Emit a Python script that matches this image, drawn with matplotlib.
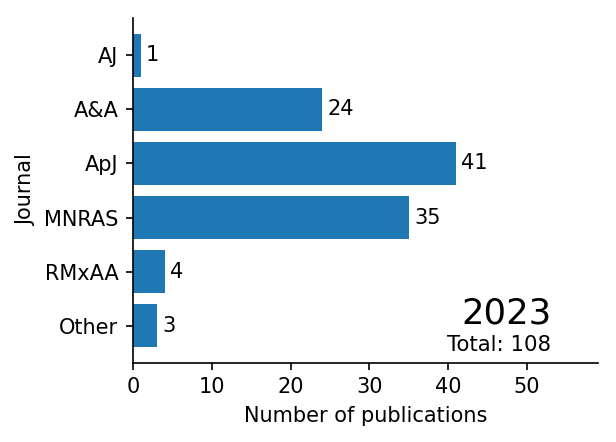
import numpy as np
import matplotlib.pyplot as plt

journals = ['AJ', 'A&A', 'ApJ', 'MNRAS', 'RMxAA', 'Other']
counts = [1, 24, 41, 35, 4, 3]
year = '2023'

fig = plt.figure(figsize=(616 / 150, 442 / 150), dpi=150)
ax = fig.add_axes([0.216, 0.179, 0.755, 0.780])

bars = ax.barh(journals, counts, color='#1f77b4', height=0.8)
ax.invert_yaxis()
ax.bar_label(bars, padding=2.5)

ax.set_xlim(0, max(counts) * 1.44)
ax.set_xlabel('Number of publications')
ax.set_ylabel('Journal')
ax.spines['top'].set_visible(False)
ax.spines['right'].set_visible(False)

ax.text(0.899, 0.093, year, transform=ax.transAxes, ha='right', va='bottom', fontsize=17)
ax.text(0.899, 0.024, f'Total: {sum(counts)}', transform=ax.transAxes, ha='right', va='bottom', fontsize=10.2)

fig.savefig('out.png', dpi=150)
